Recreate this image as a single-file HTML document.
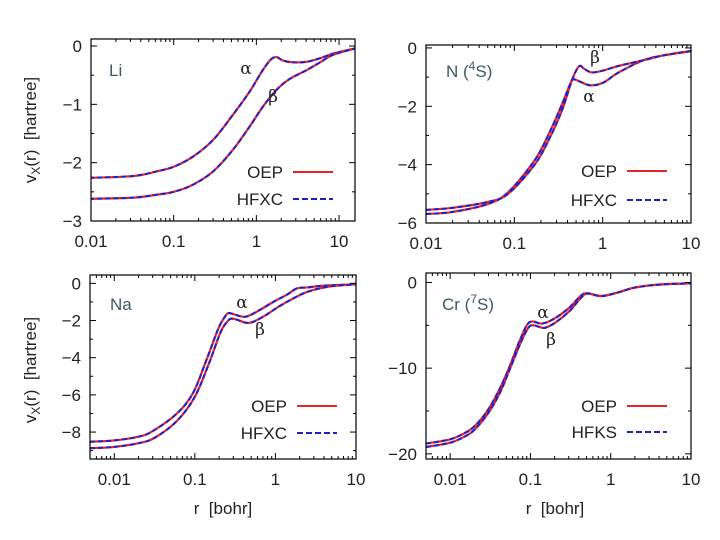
<!DOCTYPE html>
<html><head><meta charset="utf-8">
<style>
html,body{margin:0;padding:0;background:#fff;}
svg{display:block;font-family:"Liberation Sans",sans-serif;}
text{white-space:pre;}
</style></head>
<body>
<svg id="chart" width="720" height="540" viewBox="0 0 720 540" xmlns="http://www.w3.org/2000/svg">
<rect x="0" y="0" width="720" height="540" fill="#fff"/>
<g id="root"></g>
</svg>
<script>
// ---- Data (r in bohr, v in hartree) ----
const liAlphaR = [0.0095,0.032,0.062,0.1,0.17,0.3,0.52,0.83,1.2,1.5,1.76,2.1,2.8,4.1,5.9,8.5,15.8];
const liAlphaV = [-2.26,-2.23,-2.15,-2.07,-1.9,-1.61,-1.18,-0.78,-0.41,-0.23,-0.19,-0.25,-0.28,-0.27,-0.21,-0.13,-0.04];
const liBetaR = [0.0095,0.032,0.062,0.1,0.17,0.3,0.52,0.83,1.2,1.76,2.5,4.1,5.9,8.5,15.8];
const liBetaV = [-2.62,-2.6,-2.55,-2.5,-2.38,-2.15,-1.78,-1.38,-1.04,-0.75,-0.57,-0.41,-0.28,-0.15,-0.04];

const nAlphaR = [0.01,0.02,0.05,0.085,0.17,0.25,0.35,0.42,0.46,0.55,0.72,1.0,1.5,2.9,5,10];
const nAlphaV = [-5.69,-5.62,-5.35,-4.95,-3.85,-2.9,-1.9,-1.3,-1.08,-1.15,-1.28,-1.2,-0.85,-0.42,-0.25,-0.11];
const nBetaR = [0.01,0.02,0.05,0.085,0.17,0.25,0.35,0.45,0.54,0.62,0.75,1.0,1.5,2.9,5,10];
const nBetaV = [-5.55,-5.48,-5.28,-5.0,-4.0,-3.1,-2.1,-1.1,-0.63,-0.72,-0.84,-0.78,-0.62,-0.42,-0.25,-0.11];

const naAlphaR = [0.005,0.01,0.02,0.03,0.06,0.095,0.14,0.197,0.24,0.262,0.3,0.42,0.6,0.95,1.4,1.85,2.5,4,10];
const naAlphaV = [-8.52,-8.45,-8.25,-7.95,-7.0,-5.9,-4.1,-2.4,-1.75,-1.6,-1.65,-1.8,-1.5,-0.99,-0.6,-0.27,-0.22,-0.12,-0.05];
const naBetaR = [0.005,0.01,0.02,0.032,0.06,0.1,0.15,0.21,0.26,0.285,0.33,0.47,0.7,1.1,1.6,2.2,3,5,10];
const naBetaV = [-8.87,-8.8,-8.6,-8.3,-7.4,-6.1,-4.3,-2.6,-2.0,-1.9,-1.95,-2.13,-1.8,-1.25,-0.85,-0.55,-0.35,-0.15,-0.05];

const crAlphaR = [0.005,0.01,0.015,0.02,0.029,0.04,0.054,0.072,0.09,0.106,0.14,0.2,0.3,0.42,0.51,0.76,1.2,2,4,10];
const crAlphaV = [-18.8,-18.3,-17.6,-16.8,-15,-12.7,-10,-7,-5.0,-4.55,-4.8,-4.2,-3.0,-1.6,-1.26,-1.58,-1.2,-0.6,-0.25,-0.1];
const crBetaR = [0.005,0.01,0.015,0.02,0.03,0.042,0.056,0.075,0.094,0.11,0.15,0.21,0.31,0.43,0.52,0.76,1.2,2,4,10];
const crBetaV = [-19.2,-18.7,-18.0,-17.2,-15.2,-12.8,-10,-7.1,-5.3,-5.0,-5.3,-4.6,-3.3,-1.75,-1.3,-1.6,-1.2,-0.6,-0.25,-0.1];

// tick labels
const liYTicks = [0,-1,-2,-3];
const nYTicks = [0,-2,-4,-6];
const naYTicks = [0,-2,-4,-6,-8];
const crYTicks = [0,-10,-20];
const xTicksTop = [0.01,0.1,1,10];
const xTicksBottom = [0.01,0.1,1,10];

const NS = "http://www.w3.org/2000/svg";
const root = document.getElementById('root');
function mk(tag, attrs, parent){
  const e = document.createElementNS(NS, tag);
  for (const k in attrs) e.setAttribute(k, attrs[k]);
  (parent||root).appendChild(e);
  return e;
}
function fmt(v){ return v<0 ? '\u2212'+Math.abs(v) : String(v); }

function panel(cfg){
  const g = mk('g', {});
  
  
  const L=cfg.L,R=cfg.R,T=cfg.T,B=cfg.B;
  const lx0=Math.log10(cfg.xmin), lx1=Math.log10(cfg.xmax);
  const sx = r => L + (Math.log10(r)-lx0)/(lx1-lx0)*(R-L);
  const sy = v => T + (cfg.ymax-v)/(cfg.ymax-cfg.ymin)*(B-T);
  function path(rs, vs){
    const p = rs.map((r,i)=>[sx(r), sy(vs[i])]);
    let d = 'M'+p[0][0].toFixed(2)+','+p[0][1].toFixed(2);
    for (let i=0;i<p.length-1;i++){
      const p0=p[Math.max(0,i-1)], p1=p[i], p2=p[i+1], p3=p[Math.min(p.length-1,i+2)];
      const c1=[p1[0]+(p2[0]-p0[0])/6, p1[1]+(p2[1]-p0[1])/6];
      const c2=[p2[0]-(p3[0]-p1[0])/6, p2[1]-(p3[1]-p1[1])/6];
      d+=' C'+c1[0].toFixed(2)+','+c1[1].toFixed(2)+' '+c2[0].toFixed(2)+','+c2[1].toFixed(2)+' '+p2[0].toFixed(2)+','+p2[1].toFixed(2);
    }
    return d;
  }
  const clipId = 'clip-'+cfg.name;
  const cp = mk('clipPath',{id:clipId},g);
  mk('rect',{x:L,y:T,width:R-L,height:B-T},cp);
  const cg = mk('g',{'clip-path':'url(#'+clipId+')'},g);
  cfg.series.forEach(s=>{
    const red = mk('path',{d:path(s.r,s.v),fill:'none',stroke:'#e8232a','stroke-width':2.2},cg);
    
    
    const blue = mk('path',{d:path(s.r,s.v),fill:'none',stroke:'#2020c8','stroke-width':2,'stroke-dasharray':'5,3'},cg);
    
    
  });
  const fr = mk('rect',{x:L,y:T,width:R-L,height:B-T,fill:'none',stroke:'#000','stroke-width':1.2},g);
  
  
  for (let dec=Math.floor(lx0); dec<=Math.ceil(lx1); dec++){
    for (let m=1;m<10;m++){
      const r=m*Math.pow(10,dec);
      const lr=Math.log10(r);
      if (lr<lx0-1e-9||lr>lx1+1e-9) continue;
      const x=sx(r), len = m===1?6:3;
      mk('line',{x1:x,x2:x,y1:B,y2:B-len,stroke:'#000','stroke-width':1},g);
      mk('line',{x1:x,x2:x,y1:T,y2:T+len,stroke:'#000','stroke-width':1},g);
    }
  }
  cfg.xticks.forEach(t=>{
    const tx = mk('text',{x:sx(t),y:B+26,'text-anchor':'middle','font-size':17,fill:'#222'},g);
    tx.textContent = String(t);
    
    
  });
  const step = cfg.yticks[0]-cfg.yticks[1];
  for (let v=cfg.yticks[0]; v>=cfg.ymin-1e-9; v-=step/2){
    if (v>cfg.ymax) continue;
    const y=sy(v);
    const major = Math.abs(Math.round(v/step)*step - v)<1e-9;
    const len = major?6:3;
    mk('line',{x1:L,x2:L+len,y1:y,y2:y,stroke:'#000','stroke-width':1},g);
    mk('line',{x1:R,x2:R-len,y1:y,y2:y,stroke:'#000','stroke-width':1},g);
  }
  cfg.yticks.forEach(t=>{
    const tx = mk('text',{x:L-9,y:sy(t)+6,'text-anchor':'end','font-size':17,fill:'#222'},g);
    tx.textContent = fmt(t);
    
    
  });
  const ti = mk('text',{x:cfg.title[0],y:cfg.title[1],'font-size':17,fill:'#3c5a64'},g);
  ti.innerHTML = cfg.titleHTML;
  
  
  cfg.greek.forEach(gk=>{
    const t = mk('text',{x:gk[1],y:gk[2],'font-size':17,fill:'#222','text-anchor':'middle',
      'font-family':'"DejaVu Serif","Liberation Serif",serif'},g);
    t.textContent = gk[0];
    
    
  });
  const lg = mk('g',{},g);
  
  
  const [lx, ly1, ly2] = cfg.leg;
  const t1 = mk('text',{x:lx,y:ly1+6,'text-anchor':'end','font-size':17,fill:'#222'},lg);
  t1.textContent='OEP';
  
  
  mk('line',{x1:lx+10,x2:lx+50,y1:ly1,y2:ly1,stroke:'#e8232a','stroke-width':2},lg);
  const t2 = mk('text',{x:lx,y:ly2+6,'text-anchor':'end','font-size':17,fill:'#222'},lg);
  t2.textContent=cfg.leg2;
  
  
  mk('line',{x1:lx+10,x2:lx+50,y1:ly2,y2:ly2,stroke:'#2020c8','stroke-width':2,'stroke-dasharray':'6,3'},lg);
}

panel({name:'li-panel',L:91,R:355,T:39,B:221,xmin:0.01,xmax:15.6,ymin:-3,ymax:0.12,
  xticks:xTicksTop,yticks:liYTicks,title:[109,76],titleHTML:'Li',
  greek:[['α',246,74],['β',273,102]],leg:[283,172,199],leg2:'HFXC',
  series:[{id:'alpha',r:liAlphaR,v:liAlphaV},{id:'beta',r:liBetaR,v:liBetaV}]});
panel({name:'n-panel',L:426,R:691,T:45,B:223,xmin:0.01,xmax:10,ymin:-6,ymax:0.1,
  xticks:xTicksTop,yticks:nYTicks,title:[446,77],titleHTML:'N (<tspan dy="-7" font-size="12">4</tspan><tspan dy="7">S)</tspan>',
  greek:[['β',595,63],['α',589,102]],leg:[617,171,200],leg2:'HFXC',
  series:[{id:'alpha',r:nAlphaR,v:nAlphaV},{id:'beta',r:nBetaR,v:nBetaV}]});
panel({name:'na-panel',L:90,R:356,T:275,B:459,xmin:0.005,xmax:10,ymin:-9.45,ymax:0.45,
  xticks:xTicksBottom,yticks:naYTicks,title:[110,310],titleHTML:'Na',
  greek:[['α',242,308],['β',260,335]],leg:[287,406,433],leg2:'HFXC',
  series:[{id:'alpha',r:naAlphaR,v:naAlphaV},{id:'beta',r:naBetaR,v:naBetaV}]});
panel({name:'cr-panel',L:426,R:691,T:273,B:459,xmin:0.005,xmax:10,ymin:-20.6,ymax:1.1,
  xticks:xTicksBottom,yticks:crYTicks,title:[442,310],titleHTML:'Cr (<tspan dy="-7" font-size="12">7</tspan><tspan dy="7">S)</tspan>',
  greek:[['α',543,318],['β',551,345]],leg:[617,406,432],leg2:'HFKS',
  series:[{id:'alpha',r:crAlphaR,v:crAlphaV},{id:'beta',r:crBetaR,v:crBetaV}]});

[[130,'y-axis-title-top'],[370,'y-axis-title-bottom']].forEach(a=>{
  const t = mk('text',{x:0,y:0,transform:'translate(36,'+a[0]+') rotate(-90)','text-anchor':'middle','font-size':17,fill:'#222'});
  t.innerHTML='v<tspan dy="4" font-size="12">X</tspan><tspan dy="-4">(r)  [hartree]</tspan>';
  
  
});
[[223,'x-axis-title-left'],[555,'x-axis-title-right']].forEach(a=>{
  const t = mk('text',{x:a[0],y:514,'text-anchor':'middle','font-size':17,fill:'#222'});
  t.textContent='r  [bohr]';
  
  
});
</script>
</body></html>
